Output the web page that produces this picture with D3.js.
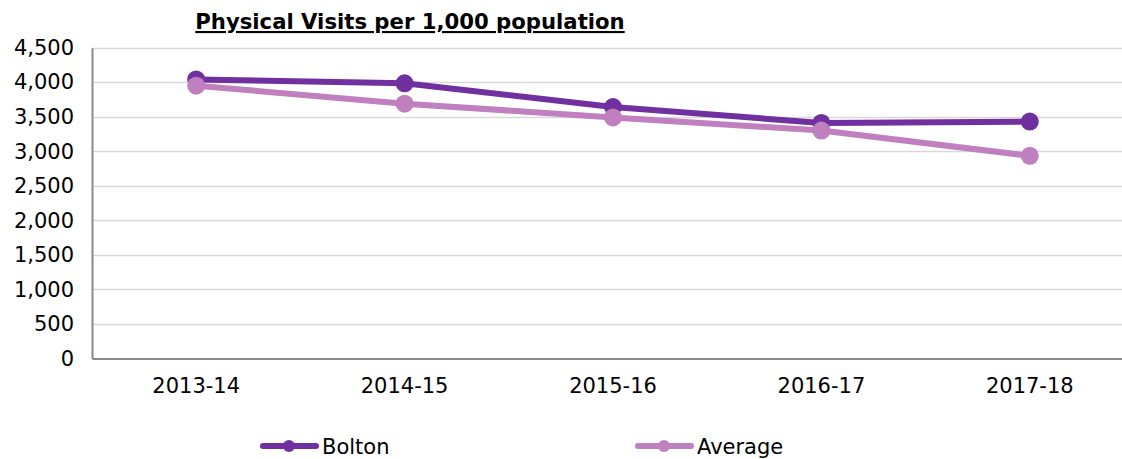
<!DOCTYPE html>
<html><head><meta charset="utf-8">
<script src="https://cdn.jsdelivr.net/npm/d3@7"></script>
<style>body{margin:0;background:#fff;} svg{display:block;font-family:"DejaVu Sans",Verdana,sans-serif;}</style>
</head><body>
<svg id="c" width="1122" height="459"></svg>
<script>
const categories = ["2013-14","2014-15","2015-16","2016-17","2017-18"];
const bolton = [4040, 3985, 3640, 3410, 3430];
const average = [3950, 3690, 3490, 3300, 2935];
const yTicks = [0,500,1000,1500,2000,2500,3000,3500,4000,4500];
const seriesNames = ["Bolton","Average"];
const seriesColors = ["#7030A0","#C080C0"];

(function(){
const svg = d3.select("#c");
const pLeft = 92, pBottom = 358.5, pTop = 47.7, plotW = 1042;
const x = d3.scaleBand().domain(categories).range([pLeft, pLeft+plotW]);
const y = d3.scaleLinear().domain([0,4500]).range([pBottom, pTop]);
const FS = 21;

svg.append("g").selectAll("line").data(yTicks.filter(d=>d>0)).join("line")
  .attr("x1", pLeft).attr("x2", pLeft+plotW)
  .attr("y1", d=>Math.round(y(d))+0.5).attr("y2", d=>Math.round(y(d))+0.5)
  .attr("stroke","#d9d9d9").attr("stroke-width",1.3);

const ya = svg.append("g").attr("transform",`translate(${pLeft},0)`)
  .call(d3.axisLeft(y).tickValues(yTicks).tickFormat(d3.format(",")).tickSize(0).tickPadding(18));
ya.select(".domain").attr("stroke","#898989").attr("stroke-width",2);
ya.selectAll("text").attr("font-size",FS).attr("fill","#000").attr("font-family","DejaVu Sans");

const xa = svg.append("g").attr("transform",`translate(0,${pBottom})`)
  .call(d3.axisBottom(x).tickSize(0).tickPadding(20));
xa.select(".domain").attr("stroke","#898989").attr("stroke-width",2);
xa.selectAll("text").attr("font-size",FS).attr("fill","#000").attr("font-family","DejaVu Sans");

const data = [bolton, average];
const line = d3.line().x((d,i)=>x(categories[i])+x.bandwidth()/2).y(d=>y(d));
data.forEach((s,k)=>{
  svg.append("path").datum(s).attr("d",line).attr("fill","none")
    .attr("stroke",seriesColors[k]).attr("stroke-width",6).attr("stroke-linejoin","round");
  svg.append("g").selectAll("circle").data(s).join("circle")
    .attr("cx",(d,i)=>x(categories[i])+x.bandwidth()/2).attr("cy",d=>y(d))
    .attr("r",9).attr("fill",seriesColors[k]);
});

svg.append("text").attr("x",410).attr("y",29).attr("text-anchor","middle")
  .attr("font-size",21.2).attr("font-weight","bold").attr("text-decoration","underline")
  .attr("fill","#000").text("Physical Visits per 1,000 population");

const legX = [260, 635];
seriesNames.forEach((n,k)=>{
  const g = svg.append("g").attr("transform",`translate(${legX[k]},446)`);
  g.append("line").attr("x1",3).attr("x2",56).attr("y1",0).attr("y2",0)
    .attr("stroke",seriesColors[k]).attr("stroke-width",6).attr("stroke-linecap","round");
  g.append("circle").attr("cx",29).attr("cy",0).attr("r",6).attr("fill",seriesColors[k]);
  g.append("text").attr("x",62).attr("y",8).attr("font-size",FS).attr("fill","#000").text(n);
});
})();
</script>
</body></html>
